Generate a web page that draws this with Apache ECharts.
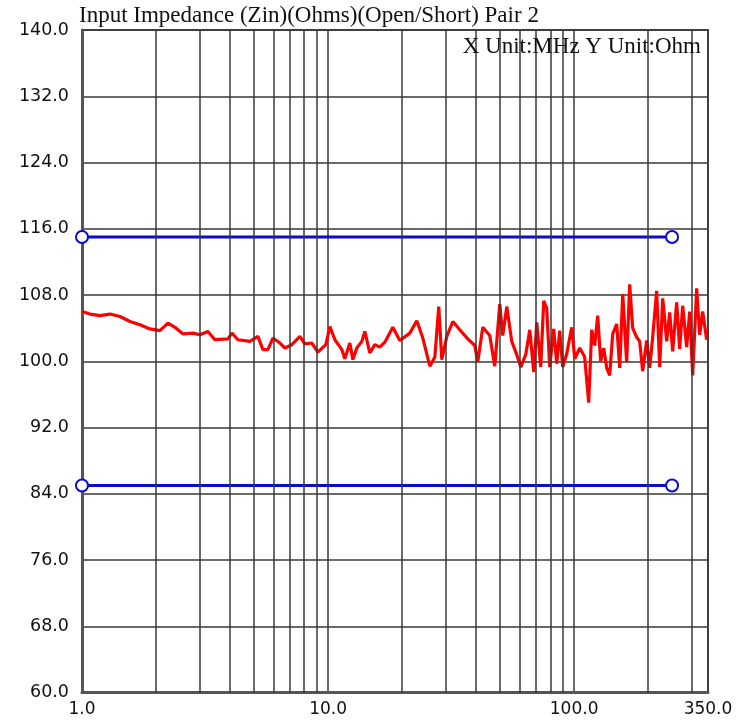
<!DOCTYPE html>
<html>
<head>
<meta charset="utf-8">
<script src="https://cdn.jsdelivr.net/npm/echarts@6/dist/echarts.min.js"></script>
<style>
  html, body { margin: 0; padding: 0; background: #fff; }
  #chart { width: 750px; height: 722px; }
</style>
</head>
<body>
<div id="chart"></div>
<script>
// Measured input impedance, pair 2 (frequency in MHz, impedance in Ohm)
const freqMHz = [
  1.00, 1.078, 1.183, 1.299, 1.427, 1.567, 1.720, 1.889, 2.074, 2.235,
  2.387, 2.572, 2.824, 3.016, 3.249, 3.469, 3.917, 4.067, 4.301, 4.813,
  5.187, 5.435, 5.694, 5.967, 6.372, 6.676, 7.129, 7.682, 8.049, 8.596,
  9.091, 9.797, 10.17, 10.66, 11.38, 11.70, 12.26, 12.61, 13.09, 13.72,
  14.11, 14.78, 15.49, 16.23, 17.01, 18.33, 19.57, 21.49, 22.95, 24.27,
  25.92, 27.16, 28.18, 28.99, 30.38, 32.14, 34.30, 36.97, 39.47, 40.59,
  42.54, 45.41, 47.59, 49.87, 51.29, 53.24, 55.78, 58.45, 60.69, 63.60,
  66.03, 68.54, 70.49, 73.17, 75.25, 77.38, 79.59, 82.62, 84.97, 87.39,
  89.87, 93.31, 97.78, 100.6, 105.4, 110.4, 114.6, 117.9, 121.2, 124.7,
  128.2, 131.9, 135.6, 139.5, 143.5, 148.9, 153.2, 157.6, 163.5, 168.2,
  173.0, 179.6, 184.7, 189.9, 197.2, 202.8, 208.6, 216.5, 222.7, 229.1,
  237.8, 244.6, 251.5, 261.1, 268.5, 276.2, 286.7, 294.9, 303.3, 314.8,
  323.8, 333.0, 345.6
];
const zinOhm = [
  106.0, 105.7, 105.5, 105.7, 105.4, 104.8, 104.4, 103.9, 103.7, 104.6,
  104.1, 103.3, 103.4, 103.2, 103.6, 102.6, 102.7, 103.4, 102.6, 102.4,
  103.0, 101.4, 101.4, 102.8, 102.2, 101.6, 102.0, 103.0, 102.1, 102.2,
  101.1, 102.0, 104.2, 102.6, 101.4, 100.3, 102.2, 100.2, 101.6, 102.4,
  103.6, 101.0, 102.0, 101.7, 102.3, 104.1, 102.5, 103.4, 104.9, 102.8,
  99.4, 100.5, 106.6, 100.2, 103.0, 104.8, 103.8, 102.7, 101.9, 99.9,
  104.1, 103.1, 99.4, 106.9, 103.1, 106.6, 102.4, 100.8, 99.3, 100.8,
  103.8, 98.7, 104.7, 99.3, 107.3, 106.4, 99.3, 103.9, 99.7, 103.7,
  99.3, 100.9, 104.1, 100.3, 101.6, 100.5, 95.0, 103.8, 101.9, 105.5,
  100.0, 101.6, 99.2, 98.3, 103.3, 104.5, 99.2, 108.1, 99.9, 109.3,
  104.0, 102.9, 102.4, 98.8, 102.5, 99.2, 102.9, 108.5, 99.3, 107.6,
  102.4, 105.9, 101.2, 107.1, 101.5, 106.7, 101.7, 106.0, 98.3, 108.8,
  103.2, 106.0, 102.6
];

// Limit lines (start/end frequency and level)
const limitFreqs = [1, 250];
const upperLimit = 115;
const lowerLimit = 85;

// Axis ranges
const xMin = 1, xMax = 350;
const yMin = 60, yMax = 140, yStep = 8;

// Intermediate log-decade grid lines
const minorGridFreqs = [2, 3, 4, 5, 6, 7, 8, 9, 20, 30, 40, 50, 60, 70, 80, 90, 200, 300];

const titleText = 'Input Impedance (Zin)(Ohms)(Open/Short) Pair 2';
const unitText = 'X Unit:MHz Y Unit:Ohm';

const gridColor = '#383838';
const serifFont = '"Liberation Serif", "DejaVu Serif", serif';
const sansFont = '"DejaVu Sans", sans-serif';

const chart = echarts.init(document.getElementById('chart'), null, { renderer: 'canvas' });

const trace = freqMHz.map((f, i) => [f, zinOhm[i]]);

chart.setOption({
  animation: false,
  backgroundColor: '#fff',
  title: [
    {
      text: titleText,
      left: 79, top: 4,
      padding: 0,
      textStyle: { fontFamily: serifFont, fontSize: 23, fontWeight: 'normal', color: '#111' }
    },
    {
      text: unitText,
      right: 49, top: 35,
      padding: 0,
      textStyle: { fontFamily: serifFont, fontSize: 23, fontWeight: 'normal', color: '#111' }
    }
  ],
  grid: {
    left: 82, right: 42, top: 30, bottom: 29.5,
    show: true, borderColor: '#555', borderWidth: 2, backgroundColor: 'transparent'
  },
  xAxis: {
    type: 'log', logBase: 10, min: xMin, max: xMax,
    axisLine: { show: true, lineStyle: { color: '#555', width: 3 } },
    axisTick: { show: false },
    splitLine: { show: true, lineStyle: { color: gridColor, width: 1.5 } },
    axisLabel: {
      margin: 9, color: '#111', fontFamily: sansFont, fontSize: 17,
      showMinLabel: true, showMaxLabel: true,
      formatter: v => Number(v).toFixed(1)
    }
  },
  yAxis: {
    type: 'value', min: yMin, max: yMax, interval: yStep,
    axisLine: { show: true, lineStyle: { color: '#555', width: 3 } },
    axisTick: { show: false },
    splitLine: { show: true, lineStyle: { color: gridColor, width: 1.5 } },
    axisLabel: {
      margin: 13, color: '#111', fontFamily: sansFont, fontSize: 17.5,
      formatter: v => Number(v).toFixed(1)
    }
  },
  series: [
    {
      name: 'grid',
      type: 'line',
      data: [[xMin, yMin]],
      showSymbol: false,
      silent: true,
      z: 1,
      lineStyle: { opacity: 0 },
      markLine: {
        silent: true,
        symbol: ['none', 'none'],
        label: { show: false },
        lineStyle: { color: gridColor, width: 1.5, type: 'solid' },
        data: minorGridFreqs.map(f => ({ xAxis: f }))
      }
    },
    {
      name: 'upper',
      type: 'line',
      data: limitFreqs.map(f => [f, upperLimit]),
      symbol: 'emptyCircle', symbolSize: 12,
      z: 3,
      lineStyle: { color: '#0a0ad0', width: 3 },
      itemStyle: { color: '#0a0ad0', borderColor: '#0a0ad0', borderWidth: 3 }
    },
    {
      name: 'lower',
      type: 'line',
      data: limitFreqs.map(f => [f, lowerLimit]),
      symbol: 'emptyCircle', symbolSize: 12,
      z: 3,
      lineStyle: { color: '#0a0ad0', width: 3 },
      itemStyle: { color: '#0a0ad0', borderColor: '#0a0ad0', borderWidth: 3 }
    },
    {
      name: 'Zin',
      type: 'line',
      data: trace,
      showSymbol: false,
      z: 4,
      lineStyle: { color: '#ff0000', width: 3.2 }
    }
  ]
});
</script>
</body>
</html>
